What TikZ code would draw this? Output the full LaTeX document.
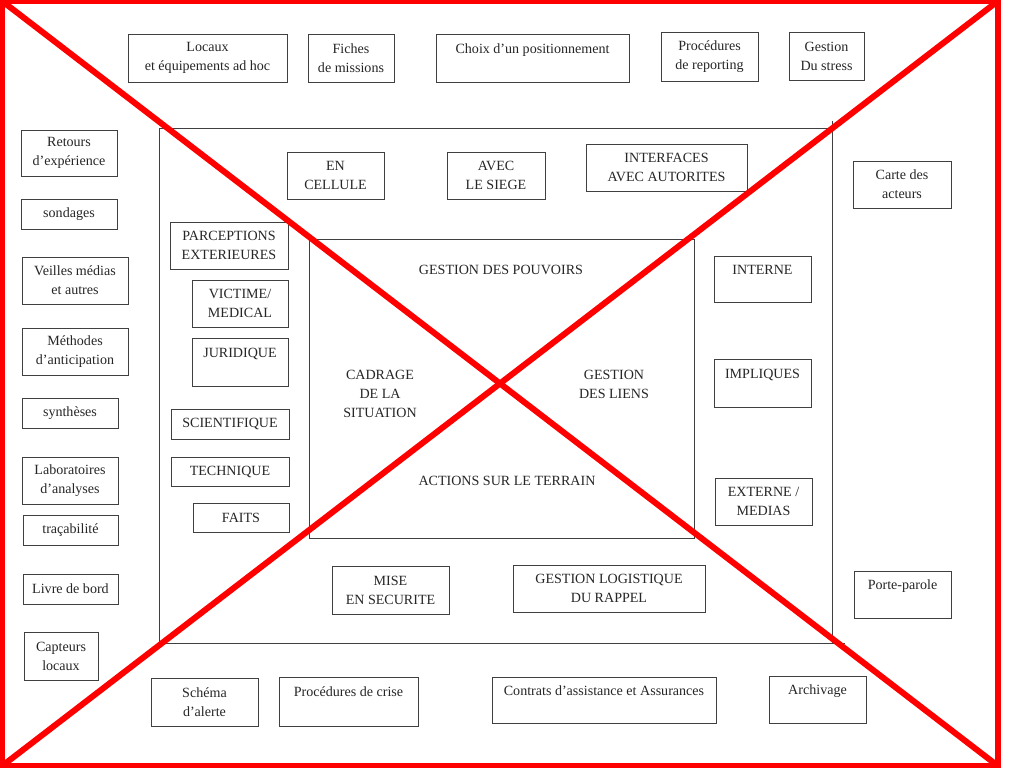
\documentclass[tikz,border=0pt]{standalone}
\usepackage{fontspec}
\setmainfont{Liberation Serif}

\begin{document}
\begin{tikzpicture}[x=0.025cm,y=-0.025cm,
		boite/.style 2 args={draw=black!75,line width=0.6pt,inner sep=0pt,align=center,text=black!85,font=\fontsize{10}{13.5}\selectfont,minimum width=#1cm,minimum height=#2cm},
		libre/.style={align=center,text=black!85,font=\fontsize{10}{13.5}\selectfont},
		cadre/.style={black!75,line width=0.6pt},
		croix/.style={red,line width=0.15cm}]
				\useasboundingbox (0,0) rectangle (1024,768);
				% the two frames
				\draw[cadre] (159,128) -- (832,128);
				\draw[cadre] (832,121) -- (832,643);
				\draw[cadre] (159,643) -- (845,643);
				\draw[cadre] (159,128) -- (159,643);
				\draw[cadre] (309,239) rectangle (694,538);
				% boxes along the top
				\node[boite={3.975}{1.2}] (locaux) at (207.5,58) {Locaux\\et équipements ad hoc};
				\node[boite={2.15}{1.2}] (fiches) at (351,58) {Fiches\\de missions};
				\node[boite={4.825}{1.2}] (choix) at (532.5,58) {Choix d’un positionnement\\\mbox{}};
				\node[boite={2.425}{1.225}] (reporting) at (709.5,56.5) {Procédures\\de reporting};
				\node[boite={1.875}{1.2}] (stress) at (826.5,56) {Gestion\\Du stress};
				% boxes along the left side
				\node[boite={2.4}{1.15}] (retours) at (69,153) {Retours\\d’expérience};
				\node[boite={2.4}{0.75}] (sondages) at (69,214) {sondages};
				\node[boite={2.65}{1.175}] (veilles) at (75,280.5) {Veilles médias\\et autres};
				\node[boite={2.65}{1.175}] (methodes) at (75,351.5) {Méthodes\\d’anticipation};
				\node[boite={2.4}{0.75}] (syntheses) at (70,413) {synthèses};
				\node[boite={2.4}{1.175}] (labos) at (70,480.5) {Laboratoires\\d’analyses};
				\node[boite={2.375}{0.75}] (tracabilite) at (70.5,530) {traçabilité};
				\node[boite={2.375}{0.75}] (livre) at (70.5,589) {Livre de bord};
				\node[boite={1.85}{1.2}] (capteurs) at (61,656) {Capteurs\\locaux};
				% boxes along the right side
				\node[boite={2.45}{1.175}] (carte) at (902,184.5) {Carte des\\acteurs};
				\node[boite={2.425}{1.175}] (porteparole) at (902.5,594.5) {Porte-parole\\\mbox{}};
				% boxes along the bottom
				\node[boite={2.675}{1.2}] (schema) at (204.5,702) {Schéma\\d’alerte};
				\node[boite={3.475}{1.225}] (crise) at (348.5,701.5) {Procédures de crise\\\mbox{}};
				\node[boite={5.6}{1.15}] (contrats) at (604,700) {Contrats d’assistance et Assurances\\\mbox{}};
				\node[boite={2.425}{1.175}] (archivage) at (817.5,699.5) {Archivage\\\mbox{}};
				% inside the big frame: top row
				\node[boite={2.425}{1.175}] (cellule) at (335.5,175.5) {EN\\CELLULE};
				\node[boite={2.45}{1.175}] (siege) at (496,175.5) {AVEC\\LE SIEGE};
				\node[boite={4.025}{1.175}] (autorites) at (666.5,167.5) {INTERFACES\\AVEC AUTORITES};
				% inside the big frame: left column
				\node[boite={2.95}{1.175}] (perceptions) at (229,245.5) {PARCEPTIONS\\EXTERIEURES};
				\node[boite={2.4}{1.175}] (victime) at (240,303.5) {VICTIME/\\MEDICAL};
				\node[boite={2.4}{1.2}] (juridique) at (240,362) {JURIDIQUE\\\mbox{}};
				\node[boite={2.95}{0.75}] (scientifique) at (230,424) {SCIENTIFIQUE};
				\node[boite={2.95}{0.725}] (technique) at (230,471.5) {TECHNIQUE};
				\node[boite={2.4}{0.725}] (faits) at (241,517.5) {FAITS};
				% inside the big frame: right column
				\node[boite={2.425}{1.15}] (interne) at (762.5,279) {INTERNE\\\mbox{}};
				\node[boite={2.425}{1.2}] (impliques) at (762.5,383) {IMPLIQUES\\\mbox{}};
				\node[boite={2.425}{1.175}] (externe) at (763.5,501.5) {EXTERNE /\\MEDIAS};
				% inside the big frame: bottom row
				\node[boite={2.925}{1.2}] (securite) at (390.5,590) {MISE\\EN SECURITE};
				\node[boite={4.8}{1.175}] (logistique) at (609,588.5) {GESTION LOGISTIQUE\\DU RAPPEL};
				% the four labels of the inner frame
				\node[libre] (pouvoirs) at (501,270) {GESTION DES POUVOIRS};
				\node[libre] (cadrage) at (380,394) {CADRAGE\\DE LA\\SITUATION};
				\node[libre] (liens) at (614,384) {GESTION\\DES LIENS};
				\node[libre] (terrain) at (507,481) {ACTIONS SUR LE TERRAIN};
				% the red cross over everything
				\draw[croix] (2,1) rectangle (998,766);
				\draw[croix] (2,1) -- (998,766);
				\draw[croix] (998,1) -- (2,766);
			\end{tikzpicture}
\end{document}
